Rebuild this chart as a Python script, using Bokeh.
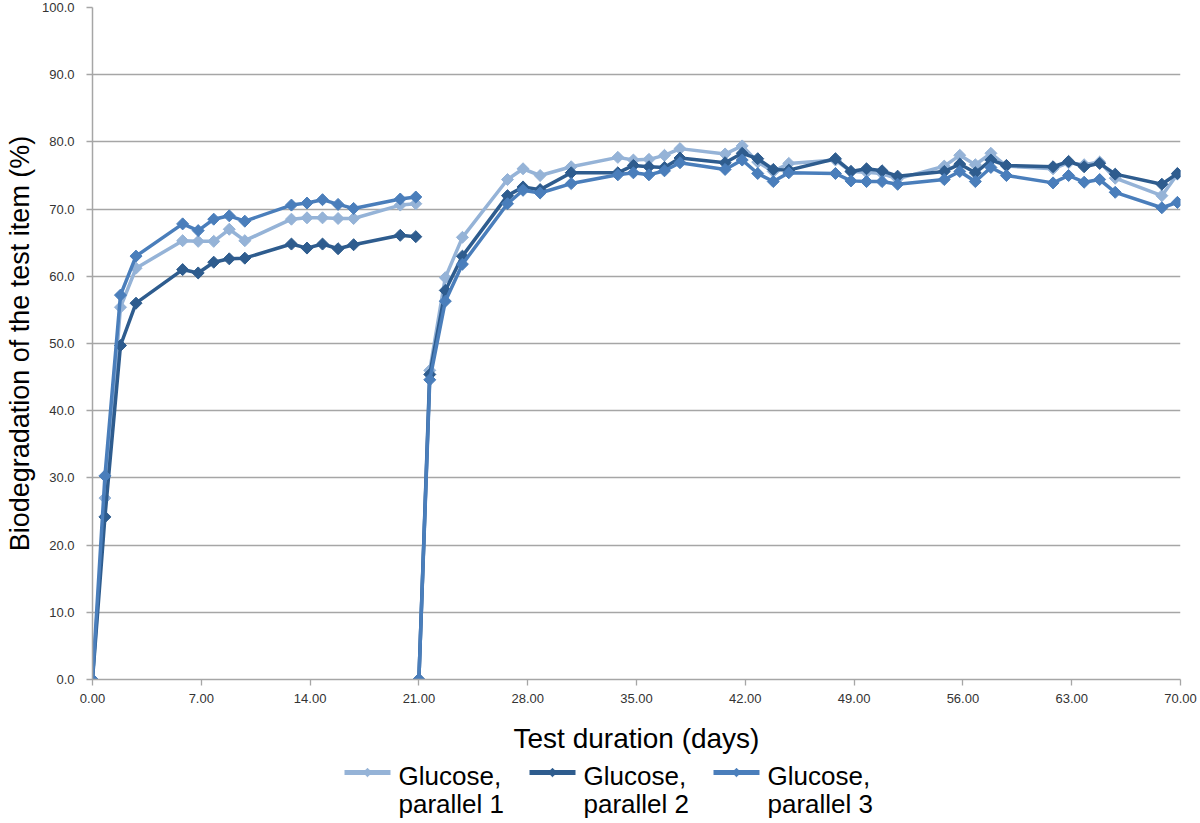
import numpy as np
from bokeh.plotting import figure
from bokeh.layouts import column
from bokeh.models import Range1d, FixedTicker, NumeralTickFormatter, ColumnDataSource
from bokeh.core.properties import value
from bokeh.embed import file_html
from bokeh.resources import INLINE

nan = float("nan")

days = [0, 0.8, 1.8, 2.8, 5.8, 6.8, 7.8, 8.8, 9.8, 12.8, 13.8, 14.8, 15.8, 16.8, 19.8, 20.8,
        nan,
        21.0, 21.7, 22.7, 23.8, 26.7, 27.7, 28.8, 30.8, 33.8, 34.8, 35.8, 36.8, 37.8,
        40.7, 41.8, 42.8, 43.8, 44.8, 47.8, 48.8, 49.8, 50.8, 51.8,
        54.8, 55.8, 56.8, 57.8, 58.8, 61.8, 62.8, 63.8, 64.8, 65.8, 68.8, 69.8]

parallel_1 = [0, 27.0, 55.4, 61.2, 65.3, 65.2, 65.2, 67.0, 65.3, 68.5, 68.7, 68.7, 68.6, 68.6, 70.6, 70.8,
              nan,
              0, 46.0, 59.8, 65.8, 74.4, 76.0, 75.0, 76.3, 77.7, 77.3, 77.4, 78.0, 79.0,
              78.2, 79.4, 77.0, 75.6, 76.8, 77.3, 75.6, 75.5, 75.3, 74.5,
              76.4, 78.0, 76.6, 78.3, 76.4, 76.0, 76.9, 76.6, 77.0, 74.6, 72.0, 75.2]

parallel_2 = [0, 24.2, 49.7, 56.0, 61.0, 60.5, 62.1, 62.6, 62.7, 64.8, 64.2, 64.8, 64.1, 64.7, 66.1, 65.9,
              nan,
              0, 45.4, 57.9, 63.0, 72.0, 73.3, 72.9, 75.4, 75.4, 76.5, 76.3, 76.2, 77.6,
              76.9, 78.3, 77.5, 75.9, 75.8, 77.5, 75.6, 76.0, 75.7, 74.9,
              75.6, 76.7, 75.4, 77.3, 76.5, 76.3, 77.1, 76.3, 76.8, 75.2, 73.7, 75.3]

parallel_3 = [0, 30.3, 57.2, 63.0, 67.8, 66.8, 68.5, 69.0, 68.2, 70.6, 70.9, 71.4, 70.7, 70.1, 71.5, 71.8,
              nan,
              0, 44.6, 56.3, 61.8, 70.8, 72.8, 72.4, 73.8, 75.1, 75.4, 75.1, 75.7, 76.9,
              75.9, 77.3, 75.3, 74.1, 75.4, 75.3, 74.2, 74.1, 74.1, 73.7,
              74.4, 75.6, 74.1, 76.2, 75.0, 73.9, 75.0, 74.0, 74.4, 72.5, 70.2, 71.0]

series_names = ["Glucose,\nparallel 1", "Glucose,\nparallel 2", "Glucose,\nparallel 3"]
series_values = [parallel_1, parallel_2, parallel_3]
colors = ["#95B3D7", "#2E5C8E", "#4A7EBB"]

x_ticks = [0, 7, 14, 21, 28, 35, 42, 49, 56, 63, 70]
y_ticks = [0, 10, 20, 30, 40, 50, 60, 70, 80, 90, 100]

FONT = "Liberation Sans"

p = figure(width=1200, height=756, output_backend="svg", toolbar_location=None,
           x_range=Range1d(0, 70), y_range=Range1d(0, 100),
           min_border_left=92, min_border_right=20, min_border_top=7, min_border_bottom=0)
p.outline_line_color = None
p.background_fill_color = "white"

for vals, col in zip(series_values, colors):
    src = ColumnDataSource(dict(x=days, y=vals))
    p.line("x", "y", source=src, line_color=col, line_width=3.5)
    p.scatter("x", "y", source=src, marker="square", angle=np.pi / 4, size=8.5,
              fill_color=col, line_color=col)

p.xgrid.grid_line_color = None
p.ygrid.grid_line_color = "#A6A6A6"
p.ygrid.grid_line_width = 1.3

p.xaxis.ticker = FixedTicker(ticks=x_ticks)
p.yaxis.ticker = FixedTicker(ticks=y_ticks)
p.xaxis.formatter = NumeralTickFormatter(format="0.00")
p.yaxis.formatter = NumeralTickFormatter(format="0.0")

for ax in (p.xaxis, p.yaxis):
    ax.axis_line_color = "#A6A6A6"
    ax.axis_line_width = 1.5
    ax.major_tick_line_color = "#A6A6A6"
    ax.major_tick_line_width = 1.3
    ax.major_tick_in = 0
    ax.major_tick_out = 6
    ax.minor_tick_line_color = None
    ax.major_label_text_font = FONT
    ax.major_label_text_font_size = "13px"
    ax.major_label_text_color = "#333333"
    ax.axis_label_text_font = FONT
    ax.axis_label_text_font_style = "normal"
    ax.axis_label_text_color = "#000000"

p.xaxis.axis_label = "Test duration (days)"
p.yaxis.axis_label = "Biodegradation of the test item (%)"
p.xaxis.axis_label_text_font_size = "28px"
p.yaxis.axis_label_text_font_size = "27px"
p.xaxis.major_label_standoff = 8
p.xaxis.axis_label_standoff = 17
p.yaxis.major_label_standoff = 12
p.yaxis.axis_label_standoff = 4

# legend strip below the chart; x coordinates are page pixels (frame spans 92..1180)
leg = figure(width=1200, height=67, output_backend="svg", toolbar_location=None,
             x_range=Range1d(92, 1180), y_range=Range1d(67, 0),
             min_border_left=92, min_border_right=20, min_border_top=0, min_border_bottom=0)
leg.axis.visible = False
leg.grid.visible = False
leg.outline_line_color = None

text_left = [398, 583, 767]
line_y = 16
for name, col, tx in zip(series_names, colors, text_left):
    leg.segment(x0=[tx - 54], y0=[line_y], x1=[tx - 8], y1=[line_y], line_color=col, line_width=5)
    leg.scatter(x=[tx - 31], y=[line_y], marker="square", angle=np.pi / 4, size=6,
                fill_color=col, line_color=col)
    lines = name.split("\n")
    leg.text(x=[tx, tx], y=[19, 47], text=lines, text_font=value(FONT),
             text_font_size="26px", text_baseline="middle", text_align="left",
             text_color="#000000")

layout = column(p, leg, spacing=0)
open("out.html", "w").write(file_html(layout, INLINE))
